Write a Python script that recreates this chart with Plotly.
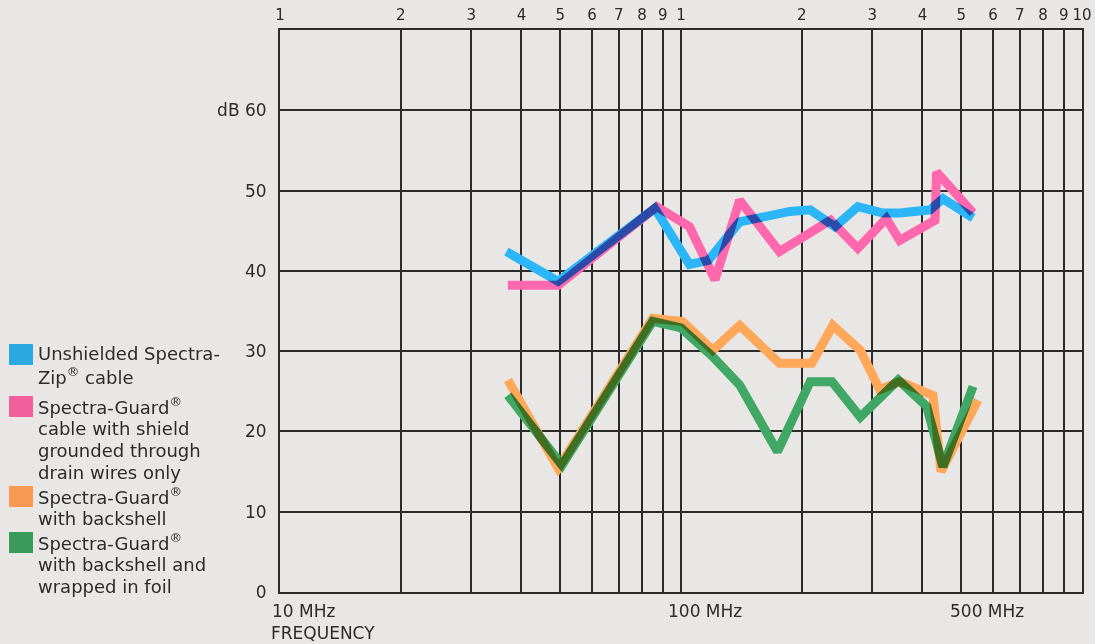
import math
import plotly.graph_objects as go

# ---------------- data ----------------
freq_unshielded = [36.7, 49.4, 86, 105, 117, 140, 187, 210, 242, 276, 319, 351, 418, 450, 535]
db_unshielded = [42.4, 38.7, 47.8, 40.8, 41.3, 46.1, 47.4, 47.6, 45.5, 48.0, 47.2, 47.2, 47.6, 49.0, 46.6]

freq_drain = [37, 49.4, 87, 105, 121.6, 140, 176, 236, 276, 325, 351, 430, 434, 535]
db_drain = [38.2, 38.2, 48.0, 45.5, 38.9, 48.8, 42.4, 46.3, 42.8, 46.5, 43.8, 46.3, 52.3, 47.2]

freq_backshell = [37, 49.4, 85, 101, 120, 140, 176, 212, 239, 280, 313, 351, 425, 445, 550]
db_backshell = [26.4, 15.4, 34.1, 33.7, 30.1, 33.2, 28.5, 28.5, 33.2, 30.1, 25.2, 26.2, 24.5, 15.0, 23.9]

freq_foil = [37, 50.5, 85, 100, 120, 140, 174, 210, 238, 280, 348, 410, 450, 535]
db_foil = [24.5, 15.8, 33.7, 32.9, 29.3, 25.8, 17.5, 26.2, 26.2, 21.8, 26.4, 23.1, 15.6, 25.6]

series_names = [
    ["Unshielded Spectra-", "Zip<sup>®</sup> cable"],
    ["Spectra-Guard<sup>®</sup>", "cable with shield", "grounded through", "drain wires only"],
    ["Spectra-Guard<sup>®</sup>", "with backshell"],
    ["Spectra-Guard<sup>®</sup>", "with backshell and", "wrapped in foil"],
]
# line colours (printed as ink, multiplied onto the paper)
series_colors = ["#2cb6f8", "#ff68ad", "#ffa85a", "#40a864"]
# legend swatch colours as they appear on the paper
swatch_colors = ["#2aa8e2", "#f1609d", "#f99a52", "#3a9a5a"]

top_tick_vals = [10, 20, 30, 40, 50, 60, 70, 80, 90,
                 100, 200, 300, 400, 500, 600, 700, 800, 900, 1000]
top_tick_text = ["1", "2", "3", "4", "5", "6", "7", "8", "9",
                 "1", "2", "3", "4", "5", "6", "7", "8", "9", "10"]

y_tick_vals = [0, 10, 20, 30, 40, 50, 60, 70]
y_tick_text = ["0", "10", "20", "30", "40", "50", "dB 60", ""]

bottom_label_freqs = [10, 100, 500]
bottom_label_text = ["10 MHz", "100 MHz", "500 MHz"]

# ---------------- layout geometry ----------------
W, H = 1095, 644
L, R, T, B = 280, 13, 30, 52
PW, PH = W - L - R, H - T - B
BG = "#e8e7e5"
INK = "#2b2b2b"
FONT = "DejaVu Sans, Verdana, sans-serif"


def px_x(px):
    return (px - L) / PW


def px_y(py):
    return (H - B - py) / PH


fig = go.Figure()

draw_order = [
    (freq_backshell, db_backshell, 2),
    (freq_foil, db_foil, 3),
    (freq_drain, db_drain, 1),
    (freq_unshielded, db_unshielded, 0),
]
for fx, dy, idx in draw_order:
    fig.add_trace(go.Scatter(
        x=fx, y=dy, mode="lines",
        line=dict(color=series_colors[idx], width=9),
        name=" ".join(series_names[idx]).replace("<sup>", "").replace("</sup>", ""),
        showlegend=False,
        hoverinfo="x+y",
    ))

fig.update_layout(
    width=W, height=H,
    margin=dict(l=L, r=R, t=T, b=B),
    paper_bgcolor=BG, plot_bgcolor=BG,
    font=dict(family=FONT, size=16, color=INK),
    xaxis=dict(
        type="log", range=[1, 3], side="top",
        tickvals=top_tick_vals, ticktext=top_tick_text,
        showgrid=True, gridcolor=INK, gridwidth=1.5,
        showline=True, mirror=True, linecolor=INK, linewidth=2,
        ticks="", ticklabelstandoff=2, tickfont=dict(size=15, color=INK),
        zeroline=False, fixedrange=True, automargin=False,
    ),
    yaxis=dict(
        range=[0, 70],
        tickvals=y_tick_vals, ticktext=y_tick_text,
        showgrid=True, gridcolor=INK, gridwidth=1.5,
        showline=True, mirror=True, linecolor=INK, linewidth=2,
        ticks="", ticklabelstandoff=8, tickfont=dict(size=17, color=INK),
        zeroline=False, fixedrange=True, automargin=False,
    ),
)

annotations = []
# bottom frequency labels (left edge offsets in pixels relative to the tick)
bottom_offsets = [-10, -15, -13]
for f, txt, off in zip(bottom_label_freqs, bottom_label_text, bottom_offsets):
    annotations.append(dict(
        x=math.log10(f), xref="x", y=px_y(611), yref="paper",
        text=txt, showarrow=False, xanchor="left", yanchor="middle",
        xshift=off, font=dict(size=17, color=INK),
    ))
annotations.append(dict(
    x=px_x(269), xref="paper", y=px_y(633), yref="paper",
    text="FREQUENCY", showarrow=False, xanchor="left", yanchor="middle",
    font=dict(size=17, color=INK),
))

# legend (manual: coloured squares + text lines)
legend_first_line = [354, 406, 496, 542]
LINE_STEP = 22
shapes = []
for lines, col, y0 in zip(series_names, swatch_colors, legend_first_line):
    shapes.append(dict(
        type="rect", xref="paper", yref="paper",
        x0=px_x(9), x1=px_x(33), y0=px_y(y0 - 10), y1=px_y(y0 + 11),
        fillcolor=col, line=dict(width=0), layer="above",
    ))
    for k, line_txt in enumerate(lines):
        annotations.append(dict(
            x=px_x(36), xref="paper", y=px_y(y0 + k * LINE_STEP), yref="paper",
            text=line_txt, showarrow=False, xanchor="left", yanchor="middle",
            align="left", font=dict(size=18, color=INK),
        ))

fig.update_layout(annotations=annotations, shapes=shapes)

post = (
    "document.body.style.margin='0';"
    "document.body.style.background='#e8e7e5';"
    "document.querySelectorAll('.scatterlayer .trace').forEach(function(t)"
    "{t.style.mixBlendMode='multiply';});"
)

fig.write_html(
    "out.html",
    config={"displayModeBar": False},
    post_script=post,
)
